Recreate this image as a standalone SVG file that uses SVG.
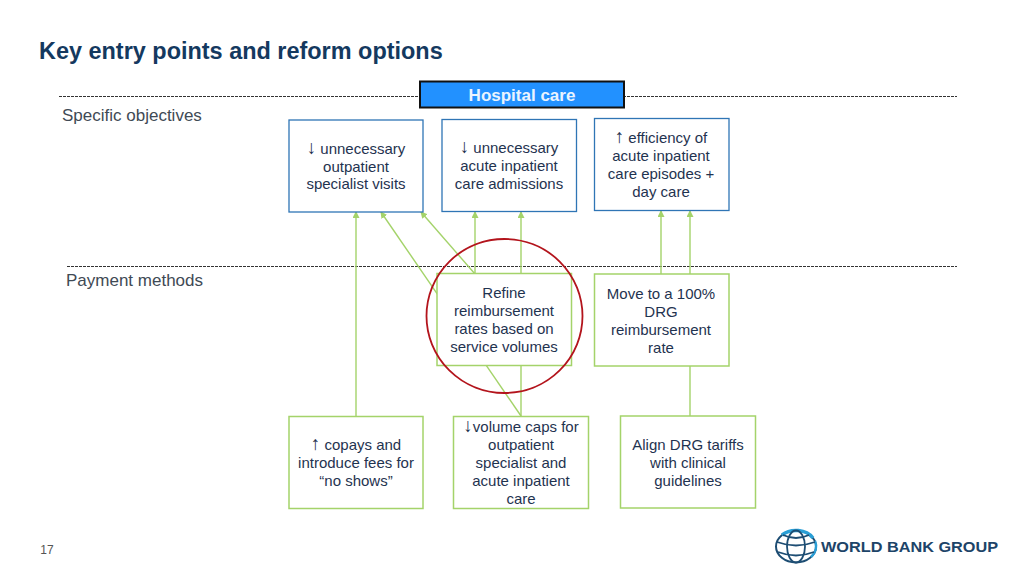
<svg xmlns="http://www.w3.org/2000/svg" width="1024" height="576" viewBox="0 0 1024 576">
<style>
text{font-family:"Liberation Sans",Arial,sans-serif;fill:#1f3350;font-size:15px;text-anchor:middle}
.lab{font-size:17px;text-anchor:start;fill:#3f4a55}
.ar{font-size:19px;fill:#1f3350}
.blue{fill:#fff;stroke:#2f75b5;stroke-width:1.3}
.green{fill:#fff;stroke:#a4d36a;stroke-width:1.5}
.conn{stroke:#a4d36a;stroke-width:1.4;fill:none;marker-end:url(#a)}
.dash{stroke:#333;stroke-width:1;stroke-dasharray:3 1;fill:none}
</style>
<defs><marker id="a" markerUnits="userSpaceOnUse" markerWidth="8" markerHeight="8" refX="6" refY="3.5" orient="auto"><path d="M0 0L7 3.5L0 7z" fill="#a4d36a"/></marker></defs>
<rect width="1024" height="576" fill="#fff"/>
<text x="39" y="59" style="font-size:23.450px;font-weight:bold;text-anchor:start;fill:#14395f">Key entry points and reform options</text>
<path class="dash" d="M59 96.500H957M67 266.500H957"/>
<text class="lab" x="62" y="121">Specific objectives</text>
<text class="lab" x="66" y="286">Payment methods</text>
<g id="connectors">
<path class="conn" d="M356 416V212"/>
<path class="conn" d="M521 416L381 212"/>
<path class="conn" d="M475 274L421 212"/>
<path class="conn" d="M475 274V212"/>
<path class="conn" d="M521 416V212"/>
<path class="conn" d="M661 274V211"/>
<path class="conn" d="M690 416V211"/>
</g>
<g id="hospital"><rect x="420" y="81.500" width="204" height="26" fill="#2291ff" stroke="#111" stroke-width="2"/><text x="522" y="100.500" style="font-size:17px;font-weight:bold;fill:#eaf4ff">Hospital care</text></g>
<g id="obj1"><rect class="blue" x="289" y="120" width="134" height="92"/><text x="356" y="154"><tspan class="ar">↓</tspan> unnecessary</text><text x="356" y="172">outpatient</text><text x="356" y="189">specialist visits</text></g>
<g id="obj2"><rect class="blue" x="442" y="119.500" width="134.500" height="92"/><text x="509" y="153"><tspan class="ar">↓</tspan> unnecessary</text><text x="509" y="171">acute inpatient</text><text x="509" y="189">care admissions</text></g>
<g id="obj3"><rect class="blue" x="594.500" y="118.500" width="134.500" height="92"/><text x="661" y="143"><tspan class="ar">↑</tspan> efficiency of</text><text x="661" y="161">acute inpatient</text><text x="661" y="179">care episodes +</text><text x="661" y="197">day care</text></g>
<g id="pay1"><rect class="green" x="437" y="273.500" width="134.500" height="92"/><text x="504" y="298">Refine</text><text x="504" y="316">reimbursement</text><text x="504" y="334">rates based on</text><text x="504" y="352">service volumes</text></g>
<g id="pay2"><rect class="green" x="594.500" y="274" width="134.500" height="92"/><text x="661" y="299">Move to a 100%</text><text x="661" y="317">DRG</text><text x="661" y="335">reimbursement</text><text x="661" y="353">rate</text></g>
<g id="opt1"><rect class="green" x="289" y="416.500" width="134" height="92"/><text x="356" y="450"><tspan class="ar">↑</tspan> copays and</text><text x="356" y="468">introduce fees for</text><text x="356" y="486">“no shows”</text></g>
<g id="opt2"><rect class="green" x="453.500" y="416.500" width="135" height="92"/><text x="521" y="432"><tspan class="ar">↓</tspan>volume caps for</text><text x="521" y="450">outpatient</text><text x="521" y="468">specialist and</text><text x="521" y="486">acute inpatient</text><text x="521" y="504">care</text></g>
<g id="opt3"><rect class="green" x="620.500" y="416" width="135" height="92"/><text x="688" y="450">Align DRG tariffs</text><text x="688" y="468">with clinical</text><text x="688" y="486">guidelines</text></g>
<ellipse id="highlight" cx="504.500" cy="316" rx="78" ry="77" fill="none" stroke="#b3141c" stroke-width="1.800"/>
<text x="47" y="554" style="font-size:12px;fill:#555">17</text>
<g id="logo" fill="none">
<ellipse cx="796" cy="546.500" rx="20" ry="16" stroke="#1d4d73" stroke-width="2"/>
<path d="M782 535A20 16 0 0 1 813 538" stroke="#2a9fd6" stroke-width="3.500"/>
<path d="M815 541A20 16 0 0 1 811 557" stroke="#2a9fd6" stroke-width="2.500"/>
<ellipse cx="796" cy="546.500" rx="9" ry="16" stroke="#1d4d73" stroke-width="1.800"/>
<path d="M777 542Q796 549 815 542M778 552Q796 559 814 552M783 535Q796 541 809 535" stroke="#1d4d73" stroke-width="1.800"/>
<text x="821" y="552" style="font-size:15px;font-weight:bold;text-anchor:start;fill:#1d4468" textLength="177" lengthAdjust="spacingAndGlyphs">WORLD BANK GROUP</text>
</g>
</svg>
